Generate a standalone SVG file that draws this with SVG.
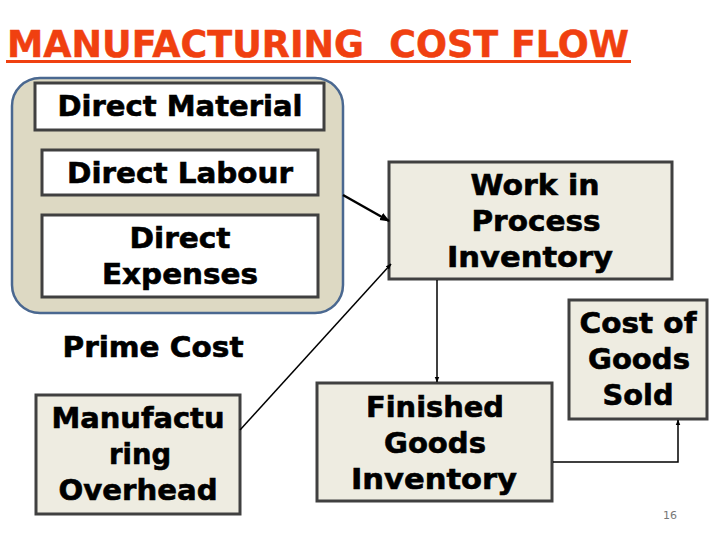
<svg xmlns="http://www.w3.org/2000/svg" width="720" height="540" viewBox="0 0 720 540">
<defs>
<style>
.t{font-family:"DejaVu Sans","Verdana",sans-serif;font-weight:bold;font-size:28px;fill:#000;stroke:#000;stroke-width:0.6;text-anchor:middle}
.bx{stroke:#404040;stroke-width:3}
.w{fill:#ffffff}
.c{fill:#eeece1}
.ln{stroke:#000;stroke-width:1.5;fill:none}
</style>
<marker id="ah" viewBox="0 0 10 10" refX="9" refY="5" markerWidth="6" markerHeight="6" orient="auto" markerUnits="userSpaceOnUse">
<path d="M0,1 L10,5 L0,9 z" fill="#000"/>
</marker>
<marker id="ahb" viewBox="0 0 10 10" refX="9" refY="5" markerWidth="10" markerHeight="10" orient="auto" markerUnits="userSpaceOnUse">
<path d="M0,1 L10,5 L0,9 z" fill="#000"/>
</marker>
</defs>
<rect width="720" height="540" fill="#fff"/>
<text x="7" y="57" font-family="DejaVu Sans, sans-serif" font-weight="bold" font-size="37" fill="#f04010" stroke="#f04010" stroke-width="0.5" textLength="622" lengthAdjust="spacingAndGlyphs" xml:space="preserve">MANUFACTURING  COST FLOW</text>
<rect x="6" y="60" width="625" height="3" fill="#f04010"/>
<g id="prime-cost">
<rect x="12" y="78" width="331" height="235" rx="28" fill="#ddd9c3" stroke="#4a6890" stroke-width="2.5"/>
<text class="t" x="153" y="357" textLength="181" lengthAdjust="spacingAndGlyphs">Prime Cost</text>
</g>
<g id="direct-material">
<rect class="bx w" x="35" y="83" width="289" height="47"/>
<text class="t" x="180" y="116" textLength="245" lengthAdjust="spacingAndGlyphs">Direct Material</text>
</g>
<g id="direct-labour">
<rect class="bx w" x="42" y="150" width="276" height="45"/>
<text class="t" x="180" y="183" textLength="226" lengthAdjust="spacingAndGlyphs">Direct Labour</text>
</g>
<g id="direct-expenses">
<rect class="bx w" x="42" y="215" width="276" height="82"/>
<text class="t" x="180" y="248" textLength="101" lengthAdjust="spacingAndGlyphs">Direct</text>
<text class="t" x="180" y="284" textLength="156" lengthAdjust="spacingAndGlyphs">Expenses</text>
</g>
<g id="manufacturing-overhead">
<rect class="bx c" x="36" y="395" width="204" height="119"/>
<text class="t" x="138" y="428" textLength="173" lengthAdjust="spacingAndGlyphs">Manufactu</text>
<text class="t" x="140" y="464" textLength="62" lengthAdjust="spacingAndGlyphs">ring</text>
<text class="t" x="138" y="500" textLength="159" lengthAdjust="spacingAndGlyphs">Overhead</text>
</g>
<g id="wip">
<rect class="bx c" x="389" y="162" width="283" height="117"/>
<text class="t" x="535" y="195" textLength="129" lengthAdjust="spacingAndGlyphs">Work in</text>
<text class="t" x="536" y="231" textLength="129" lengthAdjust="spacingAndGlyphs">Process</text>
<text class="t" x="530" y="267" textLength="166" lengthAdjust="spacingAndGlyphs">Inventory</text>
</g>
<g id="cogs">
<rect class="bx c" x="569" y="300" width="138" height="119"/>
<text class="t" x="638" y="333" textLength="117" lengthAdjust="spacingAndGlyphs">Cost of</text>
<text class="t" x="639" y="369" textLength="102" lengthAdjust="spacingAndGlyphs">Goods</text>
<text class="t" x="638" y="405" textLength="71" lengthAdjust="spacingAndGlyphs">Sold</text>
</g>
<g id="finished-goods">
<rect class="bx c" x="317" y="383" width="235" height="118"/>
<text class="t" x="435" y="417" textLength="138" lengthAdjust="spacingAndGlyphs">Finished</text>
<text class="t" x="435" y="453" textLength="102" lengthAdjust="spacingAndGlyphs">Goods</text>
<text class="t" x="434" y="489" textLength="166" lengthAdjust="spacingAndGlyphs">Inventory</text>
</g>
<g id="connectors">
<line x1="343" y1="195" x2="389" y2="221" stroke="#000" stroke-width="2.5" marker-end="url(#ahb)"/>
<line x1="240" y1="430" x2="391" y2="264" class="ln" marker-end="url(#ah)"/>
<line x1="437" y1="280" x2="437" y2="382" class="ln" marker-end="url(#ah)"/>
<polyline points="553,462 678,462 678,420" class="ln" marker-end="url(#ah)"/>
</g>
<text x="670" y="519" font-family="DejaVu Sans, sans-serif" font-size="11" fill="#777" text-anchor="middle">16</text>
</svg>
